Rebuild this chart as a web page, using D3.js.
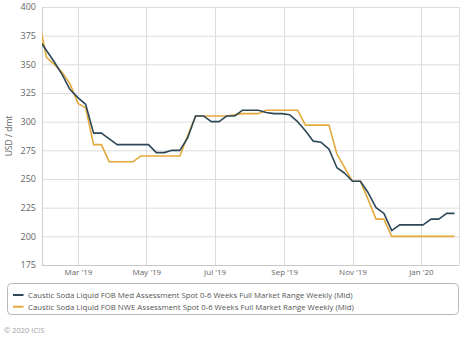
<!DOCTYPE html>
<html>
<head>
<meta charset="utf-8">
<script src="https://cdn.jsdelivr.net/npm/d3@7"></script>
<style>
  body { margin: 0; background: #fff; }
  svg { display: block; font-family: "Open Sans", "DejaVu Sans", sans-serif; }
</style>
</head>
<body>
<svg id="chart" width="474" height="339"></svg>
<script>
// Weekly assessment dates (Fridays)
const firstWeek = "2019-01-25";
const lastWeek = "2020-01-31";

// Caustic Soda Liquid FOB Med, USD/dmt (mid)
const medValues = [372, 362, 352, 341, 328, 321, 315, 290, 290, 285,
  280, 280, 280, 280, 280, 273, 273, 275, 275, 286,
  305, 305, 300, 300, 305, 305, 310, 310, 310, 308,
  307, 307, 306, 300, 292, 283, 282, 276, 260, 255,
  248, 248, 238, 225, 220, 205, 210, 210, 210, 210,
  215, 215, 220, 220];

// Caustic Soda Liquid FOB NWE, USD/dmt (mid)
const nweValues = [390, 356, 350, 343, 333, 316, 312, 280, 280, 265,
  265, 265, 265, 270, 270, 270, 270, 270, 270, 288,
  305, 305, 305, 305, 305, 306, 307, 307, 307, 310,
  310, 310, 310, 310, 297, 297, 297, 297, 272, 260,
  248, 248, 232, 215, 215, 200, 200, 200, 200, 200,
  200, 200, 200, 200];

const seriesNames = [
  "Caustic Soda Liquid FOB Med Assessment Spot 0-6 Weeks Full Market Range Weekly (Mid)",
  "Caustic Soda Liquid FOB NWE Assessment Spot 0-6 Weeks Full Market Range Weekly (Mid)"
];
const seriesColors = ["#2c4757", "#e3a93b"];

const yTicks = [175, 200, 225, 250, 275, 300, 325, 350, 375, 400];
const xTickDates = ["2019-03-01", "2019-05-01", "2019-07-01", "2019-09-01", "2019-11-01", "2020-01-01"];
const xDomain = ["2019-01-28", "2020-02-04"];
const yLabel = "USD / dmt";
const credit = "\u00a9 2020 ICIS";

const parse = d3.utcParse("%Y-%m-%d");
const dates = d3.utcFriday.range(parse(firstWeek), d3.utcDay.offset(parse(lastWeek), 1));

const svg = d3.select("#chart");
const plot = { left: 42, right: 459, top: 7, bottom: 265 };

const x = d3.scaleUtc().domain(xDomain.map(parse)).range([plot.left, plot.right]);
const y = d3.scaleLinear().domain([175, 400]).range([plot.bottom, plot.top]);

// grid
const grid = svg.append("g");
grid.selectAll("line.h").data(yTicks).join("line")
  .attr("x1", plot.left).attr("x2", plot.right)
  .attr("y1", d => y(d) + 0.5).attr("y2", d => y(d) + 0.5)
  .attr("stroke", "#dcdcdc").attr("stroke-width", 1);
grid.selectAll("line.v").data(xTickDates.map(parse)).join("line")
  .attr("y1", plot.top).attr("y2", plot.bottom)
  .attr("x1", d => Math.round(x(d)) + 0.5).attr("x2", d => Math.round(x(d)) + 0.5)
  .attr("stroke", "#dcdcdc").attr("stroke-width", 1);
// plot frame sides
grid.append("line").attr("x1", plot.right + 0.5).attr("x2", plot.right + 0.5)
  .attr("y1", plot.top).attr("y2", plot.bottom).attr("stroke", "#dcdcdc");
grid.append("line").attr("x1", plot.left + 0.5).attr("x2", plot.left + 0.5)
  .attr("y1", plot.top).attr("y2", plot.bottom).attr("stroke", "#cfcfcf");
grid.append("line").attr("x1", plot.left).attr("x2", plot.right)
  .attr("y1", plot.bottom + 0.5).attr("y2", plot.bottom + 0.5).attr("stroke", "#c8c8c8");

// axes
const yAxis = d3.axisLeft(y).tickValues(yTicks).tickSize(0).tickPadding(6);
svg.append("g").attr("transform", `translate(${plot.left},0)`).call(yAxis)
  .call(g => g.select(".domain").remove())
  .call(g => g.selectAll("text").attr("fill", "#666").attr("font-size", 9)
    .attr("font-family", "\"Open Sans\", sans-serif"));

const xAxis = d3.axisBottom(x).tickValues(xTickDates.map(parse))
  .tickFormat(d3.utcFormat("%b '%y")).tickSize(0).tickPadding(4);
svg.append("g").attr("transform", `translate(0,${plot.bottom})`).call(xAxis)
  .call(g => g.select(".domain").remove())
  .call(g => g.selectAll("text").attr("fill", "#666").attr("font-size", 8)
    .attr("font-family", "\"Open Sans\", sans-serif"));

svg.append("text")
  .attr("transform", `translate(12,${(plot.top + plot.bottom) / 2}) rotate(-90)`)
  .attr("text-anchor", "middle").attr("fill", "#666").attr("font-size", 8.5)
  .text(yLabel);

// series lines
svg.append("clipPath").attr("id", "plotClip").append("rect")
  .attr("x", plot.left).attr("y", plot.top - 2)
  .attr("width", plot.right - plot.left).attr("height", plot.bottom - plot.top + 4);

const line = d3.line().x(d => x(d.date)).y(d => y(d.value));
const seriesData = [medValues, nweValues].map(vals => vals.map((v, i) => ({ date: dates[i], value: v })));

// NWE drawn first, Med on top
[1, 0].forEach(k => {
  svg.append("path")
    .datum(seriesData[k])
    .attr("clip-path", "url(#plotClip)")
    .attr("fill", "none")
    .attr("stroke", seriesColors[k])
    .attr("stroke-width", 1.6)
    .attr("stroke-linejoin", "round")
    .attr("d", line);
});

// legend
const legend = svg.append("g");
legend.append("rect")
  .attr("x", 7.5).attr("y", 283.5).attr("width", 451).attr("height", 31).attr("rx", 4)
  .attr("fill", "#fff").attr("stroke", "#b8b8b8");
seriesNames.forEach((name, i) => {
  const cy = 295 + i * 11.7;
  legend.append("line").attr("x1", 13).attr("x2", 23.5).attr("y1", cy).attr("y2", cy)
    .attr("stroke", seriesColors[i]).attr("stroke-width", 2);
  legend.append("text").attr("x", 28).attr("y", cy + 2.8)
    .attr("font-size", 7.8).attr("fill", "#555").text(name);
});

svg.append("text").attr("x", 4).attr("y", 333)
  .attr("font-size", 7.5).attr("fill", "#a0a0a0").text(credit);
</script>
</body>
</html>
